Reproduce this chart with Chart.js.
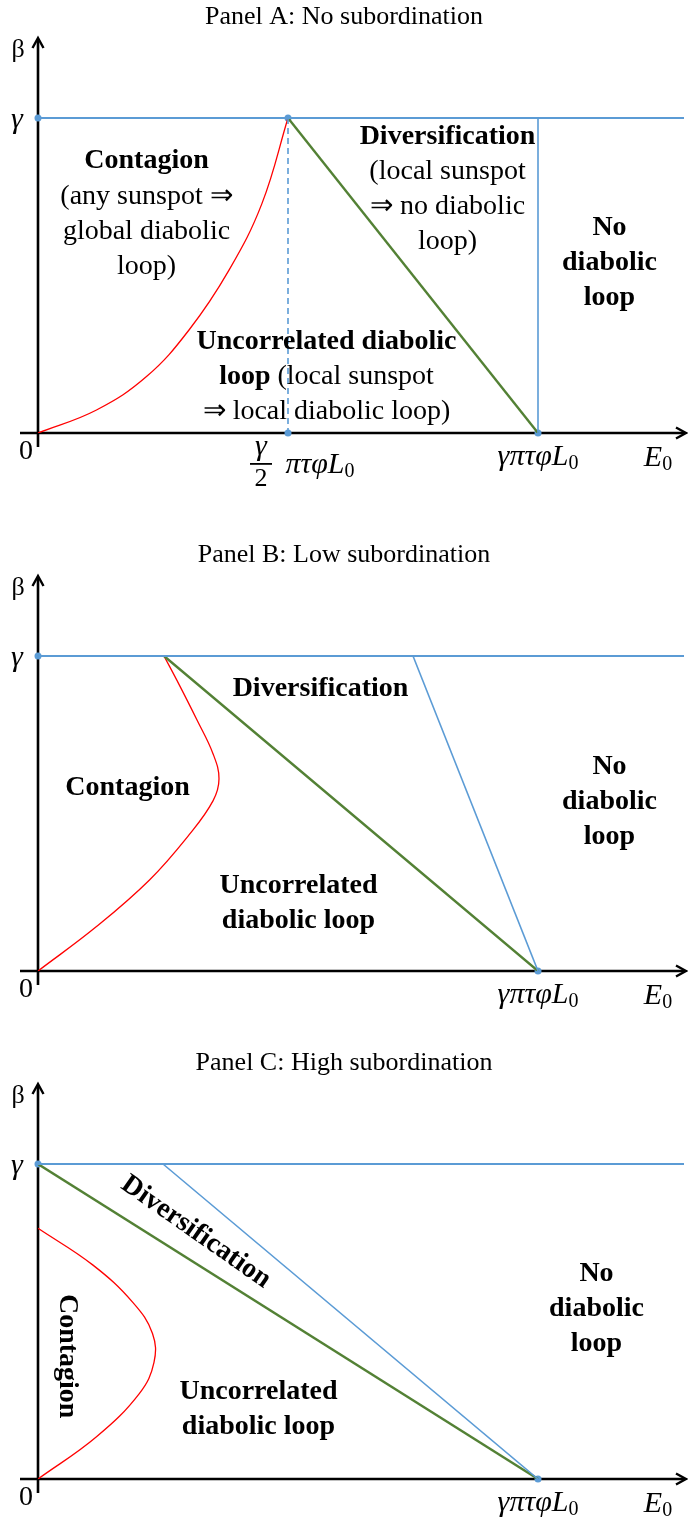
<!DOCTYPE html>
<html>
<head>
<meta charset="utf-8">
<script src="https://cdn.jsdelivr.net/npm/chart.js@4.4.1/dist/chart.umd.min.js"></script>
<style>
body { margin: 0; background: #fff; width: 688px; height: 1522px; position: relative; overflow: hidden; }
canvas { position: absolute; left: 0; }
</style>
</head>
<body>
<canvas id="panelA" width="688" height="505" style="top:0px"></canvas>
<canvas id="panelB" width="688" height="508" style="top:505px"></canvas>
<canvas id="panelC" width="688" height="509" style="top:1013px"></canvas>
<script>
// x in units of gamma*pi*tau*phi*L0, y in units of gamma
const titles = ["Panel A: No subordination", "Panel B: Low subordination", "Panel C: High subordination"];

const contagionA = [[0,0],[0.117,0.073],[0.217,0.179],[0.302,0.327],[0.382,0.517],[0.448,0.729],[0.5,1]];
const contagionB = [[0,0],[0.117,0.141],[0.223,0.289],[0.302,0.432],[0.350,0.540],[0.362,0.610],
  [0.350,0.690],[0.317,0.800],[0.282,0.910],[0.252,1]];
const contagionC = [[0,0],[0.117,0.134],[0.203,0.272],[0.232,0.370],[0.229,0.462],[0.190,0.560],[0.110,0.679],[0,0.796]];

const diversA = [[0.5,1],[1,0]];
const diversB = [[0.252,1],[1,0]];
const diversC = [[0,1],[1,0]];

const noLoopA = [[1,1],[1,0]];
const noLoopB = [[0.75,1],[1,0]];
const noLoopC = [[0.25,1],[1,0]];

const gammaLine = [[0,1],[1.292,1]];
const halfLine = [[0.5,1],[0.5,0]];

const dotsA = [[0,1],[0.5,1],[0.5,0],[1,0]];
const dotsB = [[0,1],[1,0]];
const dotsC = [[0,1],[1,0]];

const xMax = 1.292, yMax = 1.254;

const BLUE = '#5B9BD5', GREEN = '#538135', RED = '#FF0000';
const SERIF = '"Liberation Serif", "Times New Roman", serif';
const BOLD = 'bold 28px ' + SERIF;
const REG = '28px ' + SERIF;
const MATH = 'italic 30px ' + SERIF;
const SUB = '20px ' + SERIF;

function pts(a) { return a.map(p => ({x: p[0], y: p[1]})); }

function line(data, color, width, dash) {
  return {
    data: pts(data), showLine: true, borderColor: color, borderWidth: width,
    borderDash: dash || [], pointRadius: 0, fill: false
  };
}

function curve(data) {
  var d = line(data, RED, 1.3);
  d.tension = 0.4;
  return d;
}

function dots(data) {
  return {
    data: pts(data), showLine: false, pointRadius: 3.5, pointBackgroundColor: BLUE,
    pointBorderColor: BLUE, pointBorderWidth: 0, clip: false
  };
}

// draw a row of text pieces centred at x
function runs(ctx, x, y, parts) {
  var w = 0;
  parts.forEach(p => { ctx.font = p.f; w += ctx.measureText(p.t).width; });
  var cx = x - w / 2;
  ctx.textAlign = 'left';
  ctx.textBaseline = 'middle';
  parts.forEach(p => {
    ctx.font = p.f;
    ctx.fillText(p.t, cx, y + (p.dy || 0));
    cx += ctx.measureText(p.t).width;
  });
}

var L0 = [{t: 'γπτφ', f: MATH}, {t: 'L', f: MATH}, {t: '0', f: SUB, dy: 7}];

function decor(title, labels, fraction) {
  return {
    id: 'decor',
    beforeDatasetsDraw(chart) {
      var ctx = chart.ctx, a = chart.chartArea;
      var xs = chart.scales.x, ys = chart.scales.y;
      var x0 = xs.getPixelForValue(0), y0 = ys.getPixelForValue(0);
      ctx.save();
      ctx.strokeStyle = '#000';
      ctx.lineWidth = 2.6;
      ctx.lineCap = 'butt';
      ctx.beginPath();
      ctx.moveTo(x0, y0 + 14); ctx.lineTo(x0, a.top + 1);
      ctx.moveTo(20, y0); ctx.lineTo(685, y0);
      ctx.stroke();
      ctx.lineWidth = 2.4;
      ctx.beginPath();
      ctx.moveTo(x0 - 5.5, a.top + 10); ctx.lineTo(x0, a.top); ctx.lineTo(x0 + 5.5, a.top + 10);
      ctx.moveTo(676, y0 - 5.5); ctx.lineTo(686, y0); ctx.lineTo(676, y0 + 5.5);
      ctx.stroke();
      ctx.restore();
    },
    afterDraw(chart) {
      var ctx = chart.ctx, a = chart.chartArea;
      var xs = chart.scales.x, ys = chart.scales.y;
      var x0 = xs.getPixelForValue(0), y0 = ys.getPixelForValue(0);
      ctx.save();
      ctx.fillStyle = '#000';
      runs(ctx, 344, a.top - 21, [{t: title, f: '26px ' + SERIF}]);
      runs(ctx, 18, a.top + 12, [{t: 'β', f: '26px ' + SERIF}]);
      runs(ctx, 17, ys.getPixelForValue(1) + 2, [{t: 'γ', f: MATH}]);
      runs(ctx, 26, y0 + 19, [{t: '0', f: '28px ' + SERIF}]);
      runs(ctx, xs.getPixelForValue(1), y0 + 24, L0);
      runs(ctx, 658, y0 + 25, [{t: 'E', f: MATH}, {t: '0', f: SUB, dy: 7}]);
      if (fraction) {
        var fx = xs.getPixelForValue(0.5) - 27;
        runs(ctx, fx, y0 + 14, [{t: 'γ', f: MATH}]);
        ctx.fillRect(fx - 11, y0 + 30, 22, 1.8);
        runs(ctx, fx, y0 + 46, [{t: '2', f: '26px ' + SERIF}]);
        runs(ctx, xs.getPixelForValue(0.5) + 32, y0 + 32, [{t: 'πτφ', f: MATH}, {t: 'L', f: MATH}, {t: '0', f: SUB, dy: 7}]);
      }
      labels.forEach(lb => {
        var px = xs.getPixelForValue(lb.x), py = ys.getPixelForValue(lb.y);
        ctx.save();
        ctx.translate(px, py);
        if (lb.rot) ctx.rotate(lb.rot * Math.PI / 180);
        lb.lines.forEach((ln, i) => runs(ctx, 0, i * 35, ln));
        ctx.restore();
      });
      ctx.restore();
    }
  };
}

function b(t) { return [{t: t, f: BOLD}]; }
function r(t) { return [{t: t, f: REG}]; }

var noLoop = [b('No'), b('diabolic'), b('loop')];

var labelsA = [
  {x: 0.217, y: 0.863, lines: [b('Contagion'), r('(any sunspot ⇒'), r('global diabolic'), r('loop)')]},
  {x: 0.819, y: 0.940, lines: [b('Diversification'), r('(local sunspot'), r('⇒ no diabolic'), r('loop)')]},
  {x: 1.143, y: 0.651, lines: noLoop},
  {x: 0.577, y: 0.289, lines: [b('Uncorrelated diabolic'), [{t: 'loop', f: BOLD}, {t: ' (local sunspot', f: REG}], r('⇒ local diabolic loop)')]}
];
var labelsB = [
  {x: 0.565, y: 0.895, lines: [b('Diversification')]},
  {x: 0.179, y: 0.581, lines: [b('Contagion')]},
  {x: 1.143, y: 0.648, lines: noLoop},
  {x: 0.521, y: 0.270, lines: [b('Uncorrelated'), b('diabolic loop')]}
];
var labelsC = [
  {x: 0.316, y: 0.784, rot: 35, lines: [b('Diversification')]},
  {x: 0.058, y: 0.390, rot: 90, lines: [b('Contagion')]},
  {x: 1.117, y: 0.651, lines: noLoop},
  {x: 0.441, y: 0.276, lines: [b('Uncorrelated'), b('diabolic loop')]}
];

function makePanel(id, datasets, top, bottom, title, labels, fraction) {
  new Chart(id, {
    type: 'scatter',
    data: {datasets: datasets},
    options: {
      responsive: false,
      animation: false,
      layout: {padding: {left: 38, right: 0, top: top, bottom: bottom}},
      scales: {
        x: {type: 'linear', min: 0, max: xMax, display: false},
        y: {type: 'linear', min: 0, max: yMax, display: false}
      },
      plugins: {legend: {display: false}, tooltip: {enabled: false}}
    },
    plugins: [decor(title, labels, fraction)]
  });
}

makePanel('panelA', [
  line(gammaLine, BLUE, 2),
  line(halfLine, BLUE, 1.6, [6, 4]),
  line(noLoopA, BLUE, 1.6),
  line(diversA, GREEN, 2.4),
  curve(contagionA),
  dots(dotsA)
], 38, 72, titles[0], labelsA, true);

makePanel('panelB', [
  line(gammaLine, BLUE, 2),
  line(noLoopB, BLUE, 1.6),
  line(diversB, GREEN, 2.4),
  curve(contagionB),
  dots(dotsB)
], 71, 42, titles[1], labelsB, false);

makePanel('panelC', [
  line(gammaLine, BLUE, 2),
  line(noLoopC, BLUE, 1.6),
  line(diversC, GREEN, 2.4),
  curve(contagionC),
  dots(dotsC)
], 71, 43, titles[2], labelsC, false);
</script>
</body>
</html>
